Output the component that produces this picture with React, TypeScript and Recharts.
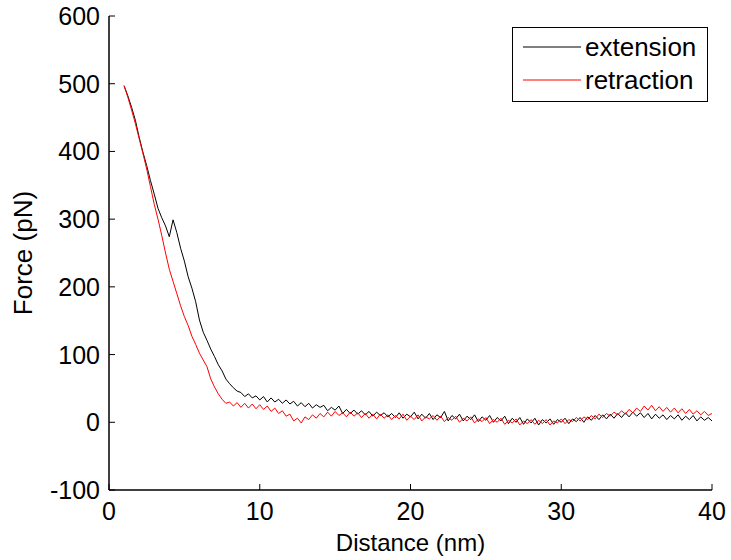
import { LineChart, Line, XAxis, YAxis, Legend } from 'recharts';

// sample positions (nm), 4 per nm
const distance = [
  1, 1.25, 1.5, 1.75, 2, 2.25, 2.5, 2.75, 3, 3.25, 3.5, 3.75,
  4, 4.25, 4.5, 4.75, 5, 5.25, 5.5, 5.75, 6, 6.25, 6.5, 6.75,
  7, 7.25, 7.5, 7.75, 8, 8.25, 8.5, 8.75, 9, 9.25, 9.5, 9.75,
  10, 10.25, 10.5, 10.75, 11, 11.25, 11.5, 11.75, 12, 12.25, 12.5, 12.75,
  13, 13.25, 13.5, 13.75, 14, 14.25, 14.5, 14.75, 15, 15.25, 15.5, 15.75,
  16, 16.25, 16.5, 16.75, 17, 17.25, 17.5, 17.75, 18, 18.25, 18.5, 18.75,
  19, 19.25, 19.5, 19.75, 20, 20.25, 20.5, 20.75, 21, 21.25, 21.5, 21.75,
  22, 22.25, 22.5, 22.75, 23, 23.25, 23.5, 23.75, 24, 24.25, 24.5, 24.75,
  25, 25.25, 25.5, 25.75, 26, 26.25, 26.5, 26.75, 27, 27.25, 27.5, 27.75,
  28, 28.25, 28.5, 28.75, 29, 29.25, 29.5, 29.75, 30, 30.25, 30.5, 30.75,
  31, 31.25, 31.5, 31.75, 32, 32.25, 32.5, 32.75, 33, 33.25, 33.5, 33.75,
  34, 34.25, 34.5, 34.75, 35, 35.25, 35.5, 35.75, 36, 36.25, 36.5, 36.75,
  37, 37.25, 37.5, 37.75, 38, 38.25, 38.5, 38.75, 39, 39.25, 39.5, 39.75,
  40,
];

// force (pN), extension curve
const extension = [
  497, 482, 465, 446, 421, 399, 379, 357, 337, 316, 302, 290,
  274, 299, 280, 257, 238, 215, 198, 178, 151, 133, 121, 108,
  97, 85, 76, 64, 57, 51, 46, 44, 38, 42, 36, 39,
  33, 38, 30, 36, 30, 34, 28, 33, 27, 31, 24, 29,
  23, 28, 21, 26, 22, 25, 17, 22, 18, 24, 13, 19,
  13, 18, 12, 17, 11, 16, 9, 15, 10, 14, 8, 13,
  7, 14, 6, 12, 8, 15, 5, 12, 6, 13, 4, 11,
  7, 16, 2, 10, 5, 12, 2, 9, 4, 11, 1, 8,
  3, 10, 0, 7, 2, 9, -2, 6, 0, 7, -3, 5,
  -1, 6, -4, 4, -1, 5, -3, 4, 0, 6, -2, 5,
  1, 7, 0, 8, 3, 10, 4, 11, 5, 12, 6, 13,
  7, 14, 8, 15, 9, 14, 7, 13, 5, 12, 6, 11,
  4, 10, 5, 11, 3, 9, 4, 10, 2, 8, 3, 7,
  2,
];

// force (pN), retraction curve
const retraction = [
  497, 480, 461, 441, 419, 397, 374, 348, 322, 300, 276, 250,
  226, 208, 190, 172, 156, 143, 127, 115, 102, 92, 82, 64,
  52, 42, 34, 28, 30, 24, 29, 22, 28, 21, 27, 20,
  26, 19, 24, 16, 21, 13, 17, 9, 12, 2, 6, -1,
  8, 4, 11, 6, 13, 8, 15, 9, 16, 10, 14, 8,
  15, 9, 14, 7, 13, 6, 12, 5, 12, 6, 11, 4,
  10, 5, 12, 3, 9, 4, 11, 2, 8, 5, 10, 3,
  9, 1, 7, 3, 9, 0, 6, 2, 8, -1, 5, 1,
  7, -2, 4, 0, 6, -3, 3, -1, 5, -4, 2, -2,
  4, -3, 3, -2, 4, -4, 2, -1, 5, -2, 4, 1,
  7, 2, 8, 4, 10, 5, 12, 7, 13, 9, 15, 11,
  17, 12, 19, 14, 21, 16, 24, 18, 25, 17, 23, 16,
  22, 15, 21, 14, 20, 13, 19, 12, 17, 11, 16, 10,
  13,
];

const xTicks = [0, 10, 20, 30, 40];
const yTicks = [-100, 0, 100, 200, 300, 400, 500, 600];

const FONT = '"Liberation Sans", Arial, sans-serif';
const TICK_FONT_SIZE = 25;
const TICK_LEN = 6;

const data = distance.map((d, i) => ({
  distance: d,
  extension: extension[i],
  retraction: retraction[i],
}));

const BottomTick = (props: any) => {
  const { x, y, payload } = props;
  return (
    <g>
      <line x1={x} y1={y} x2={x} y2={y - TICK_LEN} stroke="#000" strokeWidth={1} />
      <text x={x} y={y + 21} textAnchor="middle" dominantBaseline="central"
        fontFamily={FONT} fontSize={TICK_FONT_SIZE} fill="#000">
        {payload.value}
      </text>
    </g>
  );
};

const LeftTick = (props: any) => {
  const { x, y, payload } = props;
  return (
    <g>
      <line x1={x} y1={y} x2={x + TICK_LEN} y2={y} stroke="#000" strokeWidth={1} />
      <text x={x - 9} y={y} textAnchor="end" dominantBaseline="central"
        fontFamily={FONT} fontSize={TICK_FONT_SIZE} fill="#000">
        {payload.value}
      </text>
    </g>
  );
};

const TopTick = (props: any) => {
  const { x, y } = props;
  return <line x1={x} y1={y} x2={x} y2={y + TICK_LEN} stroke="#000" strokeWidth={1} />;
};

const RightTick = (props: any) => {
  const { x, y } = props;
  return <line x1={x} y1={y} x2={x - TICK_LEN} y2={y} stroke="#000" strokeWidth={1} />;
};

const LegendBox = () => (
  <div style={{
    position: 'relative',
    border: '1px solid #000',
    background: '#fff',
    width: 194,
    height: 73,
    fontFamily: FONT,
    fontSize: 26,
    color: '#000',
  }}>
    {[
      { name: 'extension', color: '#000' },
      { name: 'retraction', color: '#ff0000' },
    ].map((item, i) => (
      <div key={item.name} style={{
        position: 'absolute', left: 0, top: i === 0 ? 19 : 52,
        display: 'flex', alignItems: 'center', height: 0,
      }}>
        <svg width={72} height={4} style={{ display: 'block' }}>
          <line x1={10} y1={2} x2={68} y2={2} stroke={item.color} strokeWidth={1} />
        </svg>
        <span style={{ lineHeight: 1 }}>{item.name}</span>
      </div>
    ))}
  </div>
);

export default function App() {
  return (
    <div style={{ position: 'fixed', left: 0, top: 0, width: 731, height: 560, background: '#fff' }}>
      <LineChart
        width={731}
        height={560}
        data={data}
        margin={{ top: 16, right: 19, bottom: 40, left: 49 }}
      >
        <XAxis
          xAxisId="bottom"
          dataKey="distance"
          type="number"
          domain={[0, 40]}
          ticks={xTicks}
          allowDataOverflow
          height={30}
          tickSize={0}
          tickMargin={0}
          tickLine={false}
          tick={<BottomTick />}
          axisLine={{ stroke: '#000', strokeWidth: 1.5 }}
          label={{
            value: 'Distance (nm)', position: 'insideBottom', offset: -31,
            style: { fontFamily: FONT, fontSize: 24, fill: '#000' },
          }}
        />
        <XAxis
          xAxisId="top"
          orientation="top"
          dataKey="distance"
          type="number"
          domain={[0, 40]}
          ticks={xTicks}
          allowDataOverflow
          height={0}
          tickSize={0}
          tickMargin={0}
          tickLine={false}
          tick={<TopTick />}
          axisLine={{ stroke: '#000', strokeWidth: 1.5 }}
        />
        <YAxis
          yAxisId="left"
          type="number"
          domain={[-100, 600]}
          ticks={yTicks}
          allowDataOverflow
          width={60}
          tickSize={0}
          tickMargin={0}
          tickLine={false}
          tick={<LeftTick />}
          axisLine={{ stroke: '#000', strokeWidth: 1.5 }}
          label={{
            value: 'Force (pN)', angle: -90, position: 'center', dx: -56,
            style: { fontFamily: FONT, fontSize: 26, fill: '#000', textAnchor: 'middle' },
          }}
        />
        <YAxis
          yAxisId="right"
          orientation="right"
          type="number"
          domain={[-100, 600]}
          ticks={yTicks}
          allowDataOverflow
          width={0}
          tickSize={0}
          tickMargin={0}
          tickLine={false}
          tick={<RightTick />}
          axisLine={{ stroke: '#000', strokeWidth: 1.5 }}
        />
        <Legend
          layout="horizontal"
          verticalAlign="middle"
          align="center"
          content={<LegendBox />}
          wrapperStyle={{ left: 512, top: 27, width: 196, height: 75, bottom: 'auto', right: 'auto' }}
        />
        <Line
          xAxisId="bottom"
          yAxisId="left"
          type="linear"
          dataKey="extension"
          name="extension"
          stroke="#000000"
          strokeWidth={1}
          dot={false}
          isAnimationActive={false}
        />
        <Line
          xAxisId="bottom"
          yAxisId="left"
          type="linear"
          dataKey="retraction"
          name="retraction"
          stroke="#ff0000"
          strokeWidth={1}
          dot={false}
          isAnimationActive={false}
        />
      </LineChart>
    </div>
  );
}
